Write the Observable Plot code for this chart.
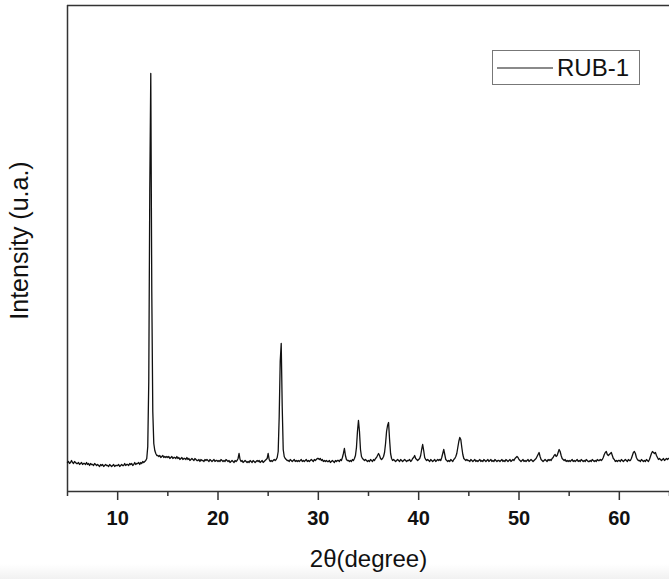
<!DOCTYPE html>
<html>
<head>
<meta charset="utf-8">
<script src="https://cdn.jsdelivr.net/npm/d3@7"></script>
<script src="https://cdn.jsdelivr.net/npm/@observablehq/plot@0.6"></script>
<style>
  html, body { margin: 0; padding: 0; background: #fff; }
  #wrap { position: relative; width: 669px; height: 579px; overflow: hidden; font-family: "Liberation Sans", Arial, sans-serif; }
  #chart { position: relative; z-index: 1; }
  #legend { position: absolute; z-index: 2; left: 492px; top: 50px; width: 146px; height: 33px; border: 1px solid #777; background: #fff; }
  #legend .sw { position: absolute; left: 4px; top: 16px; width: 56px; height: 0; border-top: 2px solid #8a8a8a; }
  #legend .lb { position: absolute; left: 64px; top: 2px; font-size: 24px; color: #111; line-height: 30px; }
  #fade { position: absolute; z-index: 0; left: 0; top: 564px; width: 669px; height: 15px; background: linear-gradient(#fff, #f1f1f1); }
</style>
</head>
<body>
<div id="wrap">
  <div id="fade"></div>
  <div id="chart"></div>
  <div id="legend"><span class="sw"></span><span class="lb"></span></div>
</div>
<script>
const seriesName = "RUB-1";
const xLabel = "2θ(degree)";
const yLabel = "Intensity (u.a.)";
const xTicks = [10, 20, 30, 40, 50, 60];
const xMinorTicks = [5, 15, 25, 35, 45, 55, 65];
const xDomain = [5, 65];
const yDomain = [0, 486];
const thetaStart = 5;
const thetaStep = 0.1;
// intensity counts, one row per degree (0.1° steps)
const counts = [
  29,30,28,29,31,29,28,30,29,28,
  28,29,27,28,29,27,28,28,27,29,
  27,28,26,28,27,27,26,28,27,26,
  27,26,25,27,26,27,25,26,27,26,
  26,25,27,26,25,26,27,25,26,26,
  26,27,25,26,27,26,26,28,26,27,
  27,26,28,27,28,26,27,29,27,28,
  28,29,27,29,28,30,29,30,31,33,
  45,110,300,418,200,80,48,41,38,36,
  36,35,36,34,35,36,34,35,34,35,
  34,35,33,34,35,33,34,34,33,35,
  33,34,32,33,34,32,33,33,32,34,
  32,33,31,32,33,32,31,33,32,31,
  31,32,30,32,31,31,30,32,31,32,
  31,30,32,31,30,31,32,30,31,31,
  30,31,30,32,31,30,31,30,32,31,
  30,31,29,30,31,30,29,31,30,31,
  33,38,32,30,31,29,30,31,30,29,
  30,29,31,30,29,31,30,29,30,31,
  30,31,29,30,31,29,30,31,32,33,
  38,32,30,31,30,31,32,31,32,34,
  40,75,130,148,85,42,35,33,32,31,
  31,30,32,31,30,31,32,30,31,30,
  31,30,31,32,30,31,30,31,32,30,
  31,30,31,32,31,30,32,31,32,33,
  33,32,33,31,32,30,31,30,31,30,
  30,31,29,30,31,30,29,31,30,31,
  31,30,32,31,34,38,43,36,32,31,
  31,30,31,30,32,31,33,36,44,60,
  71,60,42,35,33,32,31,32,31,30,
  31,30,32,31,30,32,31,33,34,36,
  38,36,33,32,33,35,39,48,60,66,
  69,52,38,33,31,32,31,30,31,32,
  31,30,32,31,30,31,32,31,30,31,
  31,32,30,31,33,34,36,33,32,31,
  32,33,36,42,47,41,34,32,31,32,
  31,30,32,31,30,31,32,30,31,32,
  31,32,31,34,38,42,37,32,31,30,
  31,30,32,31,30,32,33,35,38,44,
  50,54,52,44,37,33,32,31,32,31,
  31,30,32,31,30,31,32,30,31,30,
  31,32,30,31,30,32,31,30,31,32,
  30,31,32,30,31,30,32,31,30,31,
  31,30,31,32,30,31,30,32,31,30,
  31,32,30,31,32,31,33,34,35,34,
  32,31,30,31,32,30,31,30,31,32,
  30,31,32,31,30,31,32,33,35,37,
  39,35,32,31,30,31,32,31,30,32,
  31,32,31,33,34,36,37,35,36,39,
  42,40,36,33,32,31,32,30,31,30,
  31,30,31,32,30,31,30,31,32,30,
  31,30,32,31,30,31,30,32,31,30,
  30,31,30,32,31,30,31,30,32,31,
  31,32,31,32,34,37,39,40,37,36,
  37,38,39,36,33,32,30,31,30,31,
  31,30,32,31,30,31,32,31,30,32,
  31,31,33,36,39,40,38,34,32,31,
  31,30,32,31,30,31,30,32,31,30,
  32,35,38,40,39,38,39,36,34,32,
  33,32,31,32,33,31,32,33,32,33,
  33
];

const data = counts.map((c, i) => ({theta: +(thetaStart + i * thetaStep).toFixed(1), I: c}));

document.querySelector("#legend .lb").textContent = seriesName;

const frameColor = "#333";
const chart = Plot.plot({
  width: 669,
  height: 579,
  marginLeft: 67,
  marginRight: 0,
  marginTop: 5,
  marginBottom: 88,
  style: {fontFamily: "'Liberation Sans', Arial, sans-serif", background: "transparent", color: "#111"},
  x: {domain: xDomain},
  y: {domain: yDomain, axis: null},
  marks: [
    Plot.axisX({ticks: xMinorTicks, tickSize: 5, text: null, label: null, stroke: frameColor, strokeWidth: 1.5}),
    Plot.axisX({ticks: xTicks, tickSize: 9, tickPadding: 10, label: null, stroke: frameColor, strokeWidth: 1.5,
      fontSize: 20, fontWeight: "bold", fill: "#111"}),
    Plot.ruleY([yDomain[0]], {stroke: frameColor, strokeWidth: 1.5}),
    Plot.ruleY([yDomain[1]], {stroke: frameColor, strokeWidth: 1.5}),
    Plot.ruleX([xDomain[0]], {stroke: frameColor, strokeWidth: 1.5}),
    Plot.line(data, {x: "theta", y: "I", stroke: "#111", strokeWidth: 1.3}),
    Plot.text([xLabel], {frameAnchor: "bottom", dy: 68, fontSize: 24, fill: "#111", lineAnchor: "middle", textAnchor: "middle"}),
    Plot.text([yLabel], {frameAnchor: "left", dx: -48, dy: -8, rotate: -90, fontSize: 25, fill: "#111", lineAnchor: "middle", textAnchor: "middle"})
  ]
});
document.getElementById("chart").appendChild(chart);
</script>
</body>
</html>
